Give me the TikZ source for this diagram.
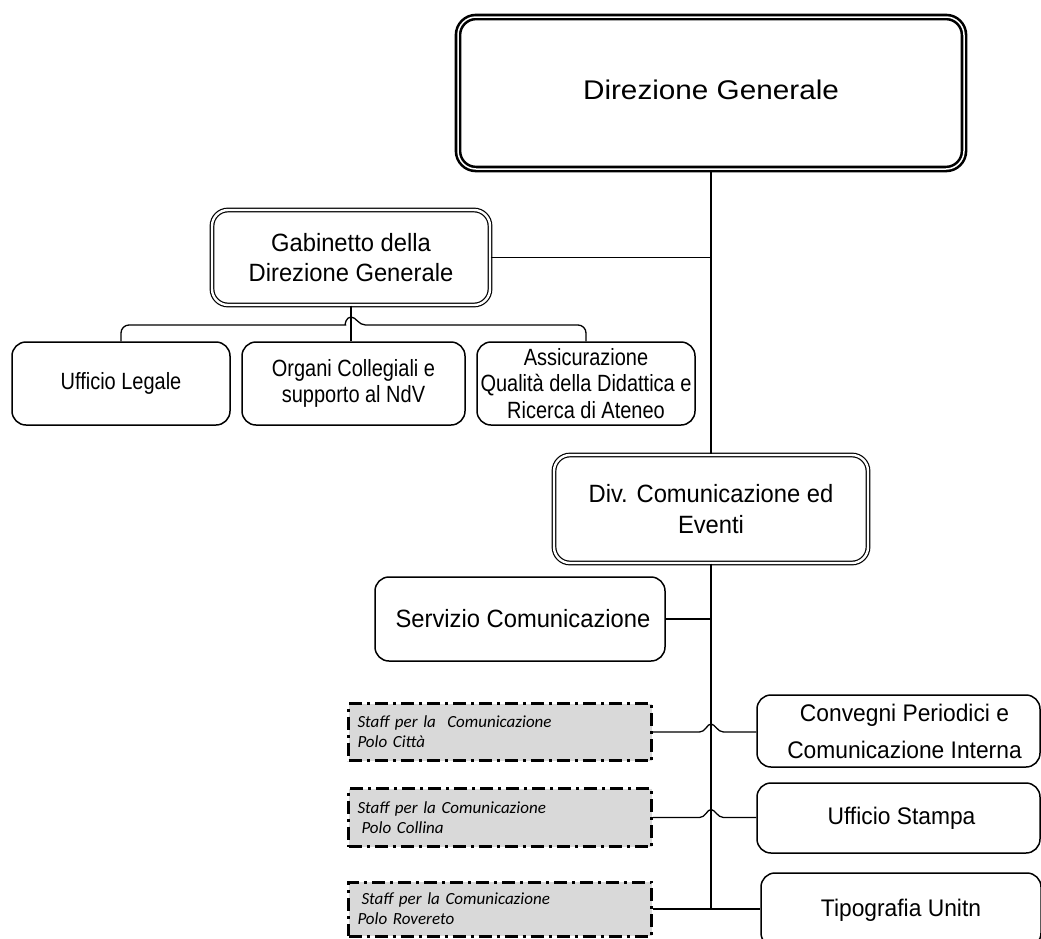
\documentclass[tikz,border=0pt]{standalone}
\usepackage{fontspec}
\setmainfont{Liberation Sans}
\newfontfamily\widefont[FakeStretch=1.1]{Liberation Sans}
\newfontfamily\midfont[FakeStretch=0.95]{Liberation Sans}
\newfontfamily\narrowfont[FakeStretch=0.85]{Liberation Sans}
\newfontfamily\stafffont{Carlito}
\usetikzlibrary{calc}

\tikzset{
  every node/.style={align=center, inner sep=0pt},
  box/.style={draw, line width=1.5pt, rounded corners=14pt, font=\narrowfont\fontsize{23.5}{26.5}\selectfont},
  topbox/.style={draw, line width=2.6pt, double, double distance=1.5pt, rounded corners=18pt,
    font=\widefont\fontsize{27}{32}\selectfont},
  dblbox/.style={draw, line width=1.2pt, double, double distance=2.4pt, rounded corners=16pt,
    font=\midfont\fontsize{25}{30}\selectfont},
  unitbox/.style={draw, line width=1.5pt, rounded corners=14pt, font=\midfont\fontsize{24}{37}\selectfont},
  staffbox/.style={draw, fill=black!15, line width=3pt, dash pattern=on 13pt off 5pt on 3pt off 5pt,
    align=left, text width=285pt, font=\stafffont\itshape\fontsize{17}{20}\selectfont},
  link/.style={draw, line width=1.3pt},
}

\begin{document}
\begin{tikzpicture}[x=1pt, y=-1pt]
\useasboundingbox (0,0) rectangle (1041,938);

% top level
\node[topbox, minimum width=506pt, minimum height=152pt] (dg) at (711,93)
  {\raisebox{6pt}{Direzione Generale}};

% staff of the general direction
\node[dblbox, minimum width=278pt, minimum height=95pt] (gab) at (351,257.5)
  {Gabinetto della\\Direzione Generale};

\node[box, minimum width=218pt, minimum height=83pt] (ul) at (121,383.5) {Ufficio Legale};
\node[box, minimum width=223pt, minimum height=83pt] (org) at (353.5,383.5)
  {Organi Collegiali e\\supporto al NdV};
\node[box, minimum width=218pt, minimum height=83pt] (ass) at (586,383.5)
  {Assicurazione\\Qualità della Didattica e\\Ricerca di Ateneo};

% communication division
\node[dblbox, minimum width=314pt, minimum height=108pt, font=\midfont\fontsize{25}{31}\selectfont]
  (div) at (711,509) {Div. Comunicazione ed\\Eventi};

\node[box, minimum width=290pt, minimum height=84pt, font=\midfont\fontsize{25}{30}\selectfont]
  (serv) at (520,619) {\hspace{6pt}Servizio Comunicazione};

\node[staffbox, minimum width=303pt, minimum height=57pt] (cit) at (500,732)
  {Staff per la\ \ Comunicazione\\Polo Città};
\node[staffbox, minimum width=303pt, minimum height=58pt] (col) at (500,817.5)
  {Staff per la Comunicazione\\\hspace{4pt}Polo Collina};
\node[staffbox, minimum width=303pt, minimum height=54pt] (rov) at (500,909)
  {\hspace{4pt}Staff per la Comunicazione\\Polo Rovereto};

\node[unitbox, minimum width=283pt, minimum height=72pt] (conv) at (898.5,731)
  {\hspace{12pt}Convegni Periodici e\\\hspace{12pt}Comunicazione Interna};
\node[unitbox, minimum width=283pt, minimum height=70pt] (stampa) at (898.5,818)
  {\hspace{6pt}Ufficio Stampa};
\node[unitbox, minimum width=280pt, minimum height=74pt] (tipo) at (901,910)
  {Tipografia Unitn};

% crossing points of the lower links over the spine
\coordinate (busL) at (337.5,325);
\coordinate (busR) at (365.5,325);
\coordinate (citL) at (699.5,732);
\coordinate (citR) at (723.5,732);
\coordinate (colL) at (699.5,817.5);
\coordinate (colR) at (723.5,817.5);

% connectors
\draw[link] (dg.south) -- (div.north);
\draw[link] (gab.east) -- (gab.east -| dg.south);
\draw[link] (gab.south) -- (gab.south |- org.north);
\draw[link] (ul.north) [rounded corners=8pt] |- (busL) [sharp corners]
  .. controls +(7,0) and +(-5,0) .. ($(gab.south |- busL)+(0,-8)$)
  .. controls +(5,0) and +(-7,0) .. (busR) [rounded corners=8pt] -| (ass.north);

\draw[link] (div.south) -- (div.south |- rov.east);
\draw[link] (serv.east) -- (serv.east -| div.south);
\draw[link] (cit.east) -- (citL)
  .. controls +(6,0) and +(-4,0) .. ($(div.south |- citL)+(0,-8)$)
  .. controls +(4,0) and +(-6,0) .. (citR) -- (conv.west |- citR);
\draw[link] (col.east) -- (colL)
  .. controls +(6,0) and +(-4,0) .. ($(div.south |- colL)+(0,-8)$)
  .. controls +(4,0) and +(-6,0) .. (colR) -- (stampa.west |- colR);
\draw[link] (rov.east) -- (tipo.west |- rov.east);
\end{tikzpicture}
\end{document}
